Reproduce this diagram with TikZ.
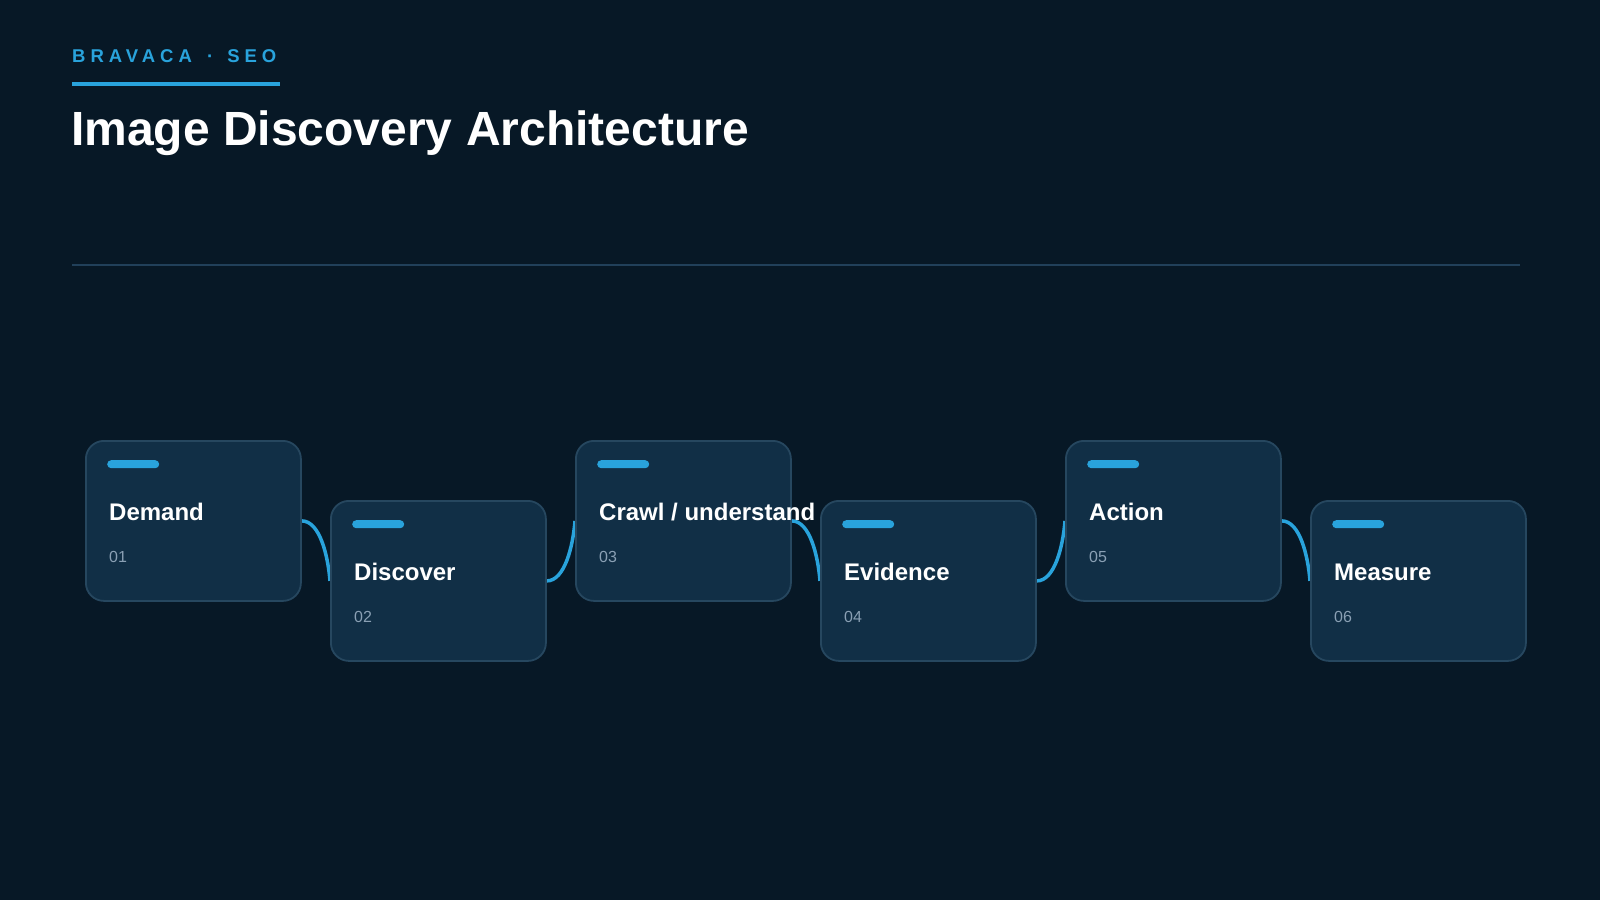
\documentclass[tikz,border=0pt]{standalone}
\usepackage{fontspec}
\setmainfont{Liberation Sans}
\newfontfamily\brandfont[LetterSpace=27]{Liberation Sans}
\definecolor{bg}{HTML}{071826}
\definecolor{boxfill}{HTML}{112F46}
\definecolor{boxline}{HTML}{26475F}
\definecolor{accent}{HTML}{29A3DC}
\definecolor{rulec}{HTML}{21405A}
\definecolor{numc}{HTML}{8AA0B4}
\begin{document}
\begin{tikzpicture}[x=1pt,y=-1pt,
  stagebox/.style={draw=boxline, line width=1.8pt, fill=boxfill, rounded corners=18pt,
    minimum width=215pt, minimum height=160pt, inner sep=0pt, anchor=north west},
  bar/.style={fill=accent, rounded corners=4pt, minimum width=52pt, minimum height=8pt, inner sep=0pt, anchor=north west},
  ttl/.style={text=white, font=\fontsize{24pt}{28pt}\selectfont\bfseries, anchor=base west, inner sep=0pt},
  num/.style={text=numc, font=\fontsize{16pt}{19pt}\selectfont, anchor=base west, inner sep=0pt},
  conn/.style={draw=accent, line width=3.5pt}]
\fill[bg] (0,0) rectangle (1600,900);
\useasboundingbox (0,0) rectangle (1600,900);
% header
\node[text=accent, font=\fontsize{18.5pt}{22pt}\selectfont\bfseries\brandfont, anchor=base west, inner sep=0pt] (brand) at (72,62) {BRAVACA\hspace{5pt} · \hspace{4pt}SEO};
\fill[accent] (72,82) rectangle (280,86);
\node[text=white, font=\fontsize{48pt}{56pt}\selectfont\bfseries, anchor=base west, inner sep=0pt] (title) at (71,145) {Image Discovery Architecture};
\fill[rulec] (72,264) rectangle (1520,266);
% box anchors
\coordinate (p1) at (85,440);
\coordinate (p2) at (330,500);
\coordinate (p3) at (575,440);
\coordinate (p4) at (820,500);
\coordinate (p5) at (1065,440);
\coordinate (p6) at (1310,500);
% invisible boxes for naming (drawn later)
\foreach \i in {1,...,6} {\node[stagebox, draw=none, fill=none] (b\i) at (p\i) {};}
% connectors
\draw[conn] (b1.east) .. controls +(18,0) and +(-2,-25) .. (b2.west);
\draw[conn] (b2.east) .. controls +(18,0) and +(-2,25) .. (b3.west);
\draw[conn] (b3.east) .. controls +(18,0) and +(-2,-25) .. (b4.west);
\draw[conn] (b4.east) .. controls +(18,0) and +(-2,25) .. (b5.west);
\draw[conn] (b5.east) .. controls +(18,0) and +(-2,-25) .. (b6.west);
% boxes
\foreach \i in {1,...,6} {\node[stagebox] (box\i) at (p\i) {};}
\foreach \i in {1,...,6} {\node[bar] (bar\i) at ([shift={(22,20)}]p\i) {};}
\node[ttl] (t1) at ([shift={(24,80)}]p1) {Demand};
\node[ttl] (t2) at ([shift={(24,80)}]p2) {Discover};
\node[ttl] (t3) at ([shift={(24,80)}]p3) {Crawl / understand};
\node[ttl] (t4) at ([shift={(24,80)}]p4) {Evidence};
\node[ttl] (t5) at ([shift={(24,80)}]p5) {Action};
\node[ttl] (t6) at ([shift={(24,80)}]p6) {Measure};
\node[num] (n1) at ([shift={(24,122)}]p1) {01};
\node[num] (n2) at ([shift={(24,122)}]p2) {02};
\node[num] (n3) at ([shift={(24,122)}]p3) {03};
\node[num] (n4) at ([shift={(24,122)}]p4) {04};
\node[num] (n5) at ([shift={(24,122)}]p5) {05};
\node[num] (n6) at ([shift={(24,122)}]p6) {06};
\end{tikzpicture}
\end{document}
